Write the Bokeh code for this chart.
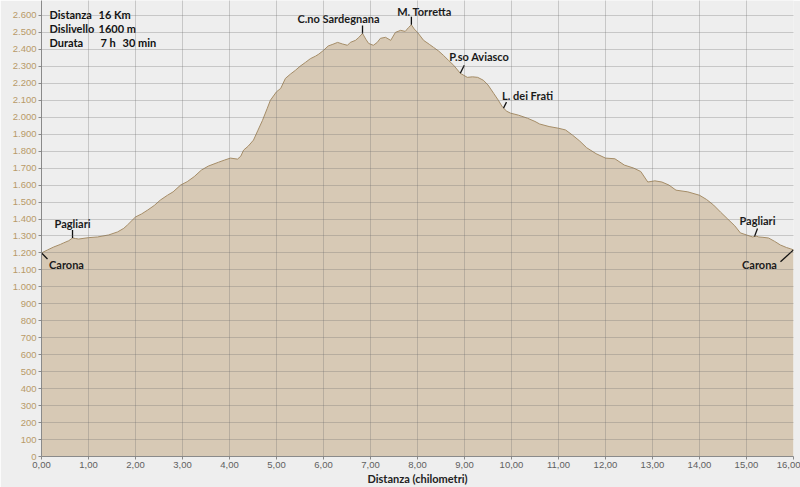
import numpy as np
from bokeh.plotting import figure
from bokeh.models import FixedTicker, Label, Range1d
from bokeh.embed import file_html
from bokeh.resources import INLINE

# ---------------- data ----------------
distance_km = [0.00, 0.13, 0.26, 0.40, 0.47, 0.58, 0.66, 0.72, 0.79, 1.00, 1.19, 1.43, 1.62,
               1.75, 1.83, 2.00, 2.13, 2.26, 2.40, 2.53, 2.68, 2.80, 2.96, 3.10, 3.25, 3.40,
               3.55, 3.77, 3.90, 4.02, 4.17, 4.24, 4.30, 4.40, 4.51, 4.60, 4.70, 4.80, 4.87,
               5.00, 5.09, 5.19, 5.30, 5.40, 5.50, 5.62, 5.72, 5.83, 5.90, 6.00, 6.10, 6.20,
               6.30, 6.40, 6.51, 6.57, 6.68, 6.75, 6.83, 6.90, 6.96, 7.06, 7.14, 7.21, 7.32,
               7.43, 7.53, 7.64, 7.74, 7.81, 7.87, 7.93, 8.00, 8.13, 8.25, 8.34, 8.45, 8.55,
               8.66, 8.77, 8.91, 9.06, 9.17, 9.28, 9.40, 9.50, 9.62, 9.72, 9.81, 9.90, 9.98,
               10.15, 10.34, 10.50, 10.60, 10.80, 11.00, 11.15, 11.30, 11.45, 11.60, 11.80,
               12.00, 12.20, 12.40, 12.60, 12.75, 12.90, 13.05, 13.20, 13.35, 13.50, 13.75,
               14.00, 14.15, 14.30, 14.45, 14.60, 14.75, 14.87, 15.00, 15.13, 15.20, 15.26,
               15.35, 15.47, 15.60, 15.72, 15.85, 15.94, 16.00]
altitude_m = [1200, 1218, 1235, 1250, 1259, 1272, 1288, 1285, 1282, 1290, 1294, 1306, 1324,
              1345, 1365, 1412, 1430, 1453, 1480, 1512, 1540, 1560, 1600, 1620, 1650, 1688,
              1712, 1735, 1748, 1759, 1753, 1770, 1806, 1830, 1865, 1920, 1980, 2050, 2100,
              2150, 2170, 2229, 2255, 2276, 2300, 2324, 2345, 2360, 2372, 2394, 2420, 2430,
              2441, 2432, 2424, 2441, 2453, 2470, 2494, 2460, 2435, 2424, 2440, 2465, 2471,
              2453, 2500, 2512, 2506, 2529, 2545, 2520, 2500, 2453, 2430, 2412, 2390, 2365,
              2335, 2306, 2259, 2235, 2238, 2235, 2218, 2190, 2141, 2100, 2059, 2035, 2024,
              2012, 1994, 1975, 1960, 1945, 1935, 1925, 1894, 1860, 1820, 1785, 1759, 1755,
              1718, 1700, 1680, 1618, 1625, 1618, 1600, 1570, 1560, 1540, 1515, 1482, 1440,
              1400, 1360, 1318, 1306, 1294, 1300, 1294, 1292, 1288, 1268, 1247, 1232, 1224, 1218]

x_ticks = list(range(0, 17))
x_tick_labels = [f"{v:.2f}".replace(".", ",") for v in x_ticks]
y_ticks = list(range(0, 2700, 100))
y_tick_labels = [f"{v:,}".replace(",", ".") for v in y_ticks]

poi_names = ["Carona", "Pagliari", "C.no Sardegnana", "M. Torretta",
             "P.so Aviasco", "L. dei Frati", "Pagliari", "Carona"]
poi_km = [0.00, 0.66, 6.83, 7.87, 8.91, 9.83, 15.17, 16.00]

info_keys = ["Distanza", "Dislivello", "Durata"]
info_values = ["16 Km", "1600 m", "7 h"]
info_extra = "30 min"
x_title = "Distanza (chilometri)"
y_title = "Altitudine (metri)"

# ---------------- style ----------------
W, H = 800, 487
BORDER_L, BORDER_R, BORDER_T, BORDER_B = 41, 7, 0, 30
X_END, Y_END = 16.0, 2688
BG = "#eeeeee"
FILL = "#d7c9b5"
EDGE = "#a58d68"
TAN = "#b89a68"
TXT_FONT = "Lato"

frame_w = W - BORDER_L - BORDER_R
frame_h = H - BORDER_T - BORDER_B
km_per_px = X_END / frame_w
m_per_px = Y_END / frame_h

# lead (dx, dy) in px, label offset (dx, dy) in px (screen: y down)
lead_px = [(6, 6), (0, -8), (0, -8), (0, -8), (4, -8), (3, -6), (3, -8), (-13, 12)]
label_px = [(25, 12), (0, -15), (-24, -15), (13, -13), (19, -17), (24, -13), (3, -16), (-34, 15)]

p = figure(width=W, height=H, output_backend="svg", toolbar_location=None,
           x_range=Range1d(0, X_END), y_range=Range1d(0, Y_END),
           min_border_left=BORDER_L, min_border_right=BORDER_R,
           min_border_top=BORDER_T, min_border_bottom=BORDER_B)
p.background_fill_color = BG
p.border_fill_color = BG
p.outline_line_color = None

p.varea(x=distance_km, y1=0, y2=altitude_m, fill_color=FILL)
p.line(distance_km, altitude_m, line_color=EDGE, line_width=1)

# grid on top of the fill
for g in (p.xgrid, p.ygrid):
    g.level = "overlay"
    g.grid_line_color = "#6e6e6e"
    g.grid_line_alpha = 0.3
    g.grid_line_width = 1
p.xgrid.ticker = FixedTicker(ticks=x_ticks)
p.ygrid.ticker = FixedTicker(ticks=y_ticks)

# axes
p.xaxis.ticker = FixedTicker(ticks=x_ticks)
p.xaxis.major_label_overrides = {t: l for t, l in zip(x_ticks, x_tick_labels)}
p.yaxis.ticker = FixedTicker(ticks=y_ticks)
p.yaxis.major_label_overrides = {t: l for t, l in zip(y_ticks, y_tick_labels)}
for ax in (p.xaxis[0], p.yaxis[0]):
    ax.axis_line_color = "#8a8a8a"
    ax.major_tick_line_color = "#8a8a8a"
    ax.major_tick_out = 3
    ax.major_tick_in = 0
    ax.minor_tick_line_color = None
    ax.major_label_text_font = "Liberation Sans"
    ax.major_label_text_font_size = "9.5px"
    ax.major_label_standoff = 2
p.xaxis.major_label_text_color = "#606060"
p.yaxis.major_label_text_color = TAN
p.xaxis.axis_label = x_title
p.xaxis.axis_label_standoff = 1
p.xaxis.axis_label_text_font = TXT_FONT
p.xaxis.axis_label_text_font_style = "bold"
p.xaxis.axis_label_text_font_size = "11px"
p.xaxis.axis_label_text_color = "#222222"

# y title drawn as a label in the left border
p.add_layout(Label(x=-(BORDER_L - 9) * km_per_px, y=(457 - 226) * m_per_px, text=y_title,
                   angle=np.pi / 2, text_font=TXT_FONT, text_font_size="11px",
                   text_color=TAN, text_align="center", text_baseline="middle"))

# points of interest
alt_interp = np.interp(poi_km, distance_km, altitude_m)
x0 = np.array(poi_km)
y0 = alt_interp
x1 = x0 + np.array([d[0] for d in lead_px]) * km_per_px
y1 = y0 - np.array([d[1] for d in lead_px]) * m_per_px
p.segment(x0=x0, y0=y0, x1=x1, y1=y1, line_color="#111111", line_width=1.3)
for name, xa, ya, (ox, oy) in zip(poi_names, x0, y0, label_px):
    p.add_layout(Label(x=xa, y=ya, x_offset=ox, y_offset=-oy, text=name,
                       text_font=TXT_FONT, text_font_style="bold", text_font_size="11px",
                       text_color="#1a1a1a", text_align="center", text_baseline="middle"))

# info box
info_y = [(457 - 14) * m_per_px, (457 - 28) * m_per_px, (457 - 42) * m_per_px]
info_x = [8 * km_per_px, 57 * km_per_px, 59 * km_per_px, 81 * km_per_px]
for i, (k, v) in enumerate(zip(info_keys, info_values)):
    p.add_layout(Label(x=info_x[0], y=info_y[i], text=k, text_font=TXT_FONT,
                       text_font_style="bold", text_font_size="11px", text_color="#111111",
                       text_baseline="middle"))
    p.add_layout(Label(x=info_x[1] if i < 2 else info_x[2], y=info_y[i], text=v,
                       text_font=TXT_FONT, text_font_style="bold", text_font_size="11px",
                       text_color="#111111", text_baseline="middle"))
p.add_layout(Label(x=info_x[3], y=info_y[2], text=info_extra, text_font=TXT_FONT,
                   text_font_style="bold", text_font_size="11px", text_color="#111111",
                   text_baseline="middle"))

open("out.html", "w").write(file_html(p, INLINE))
